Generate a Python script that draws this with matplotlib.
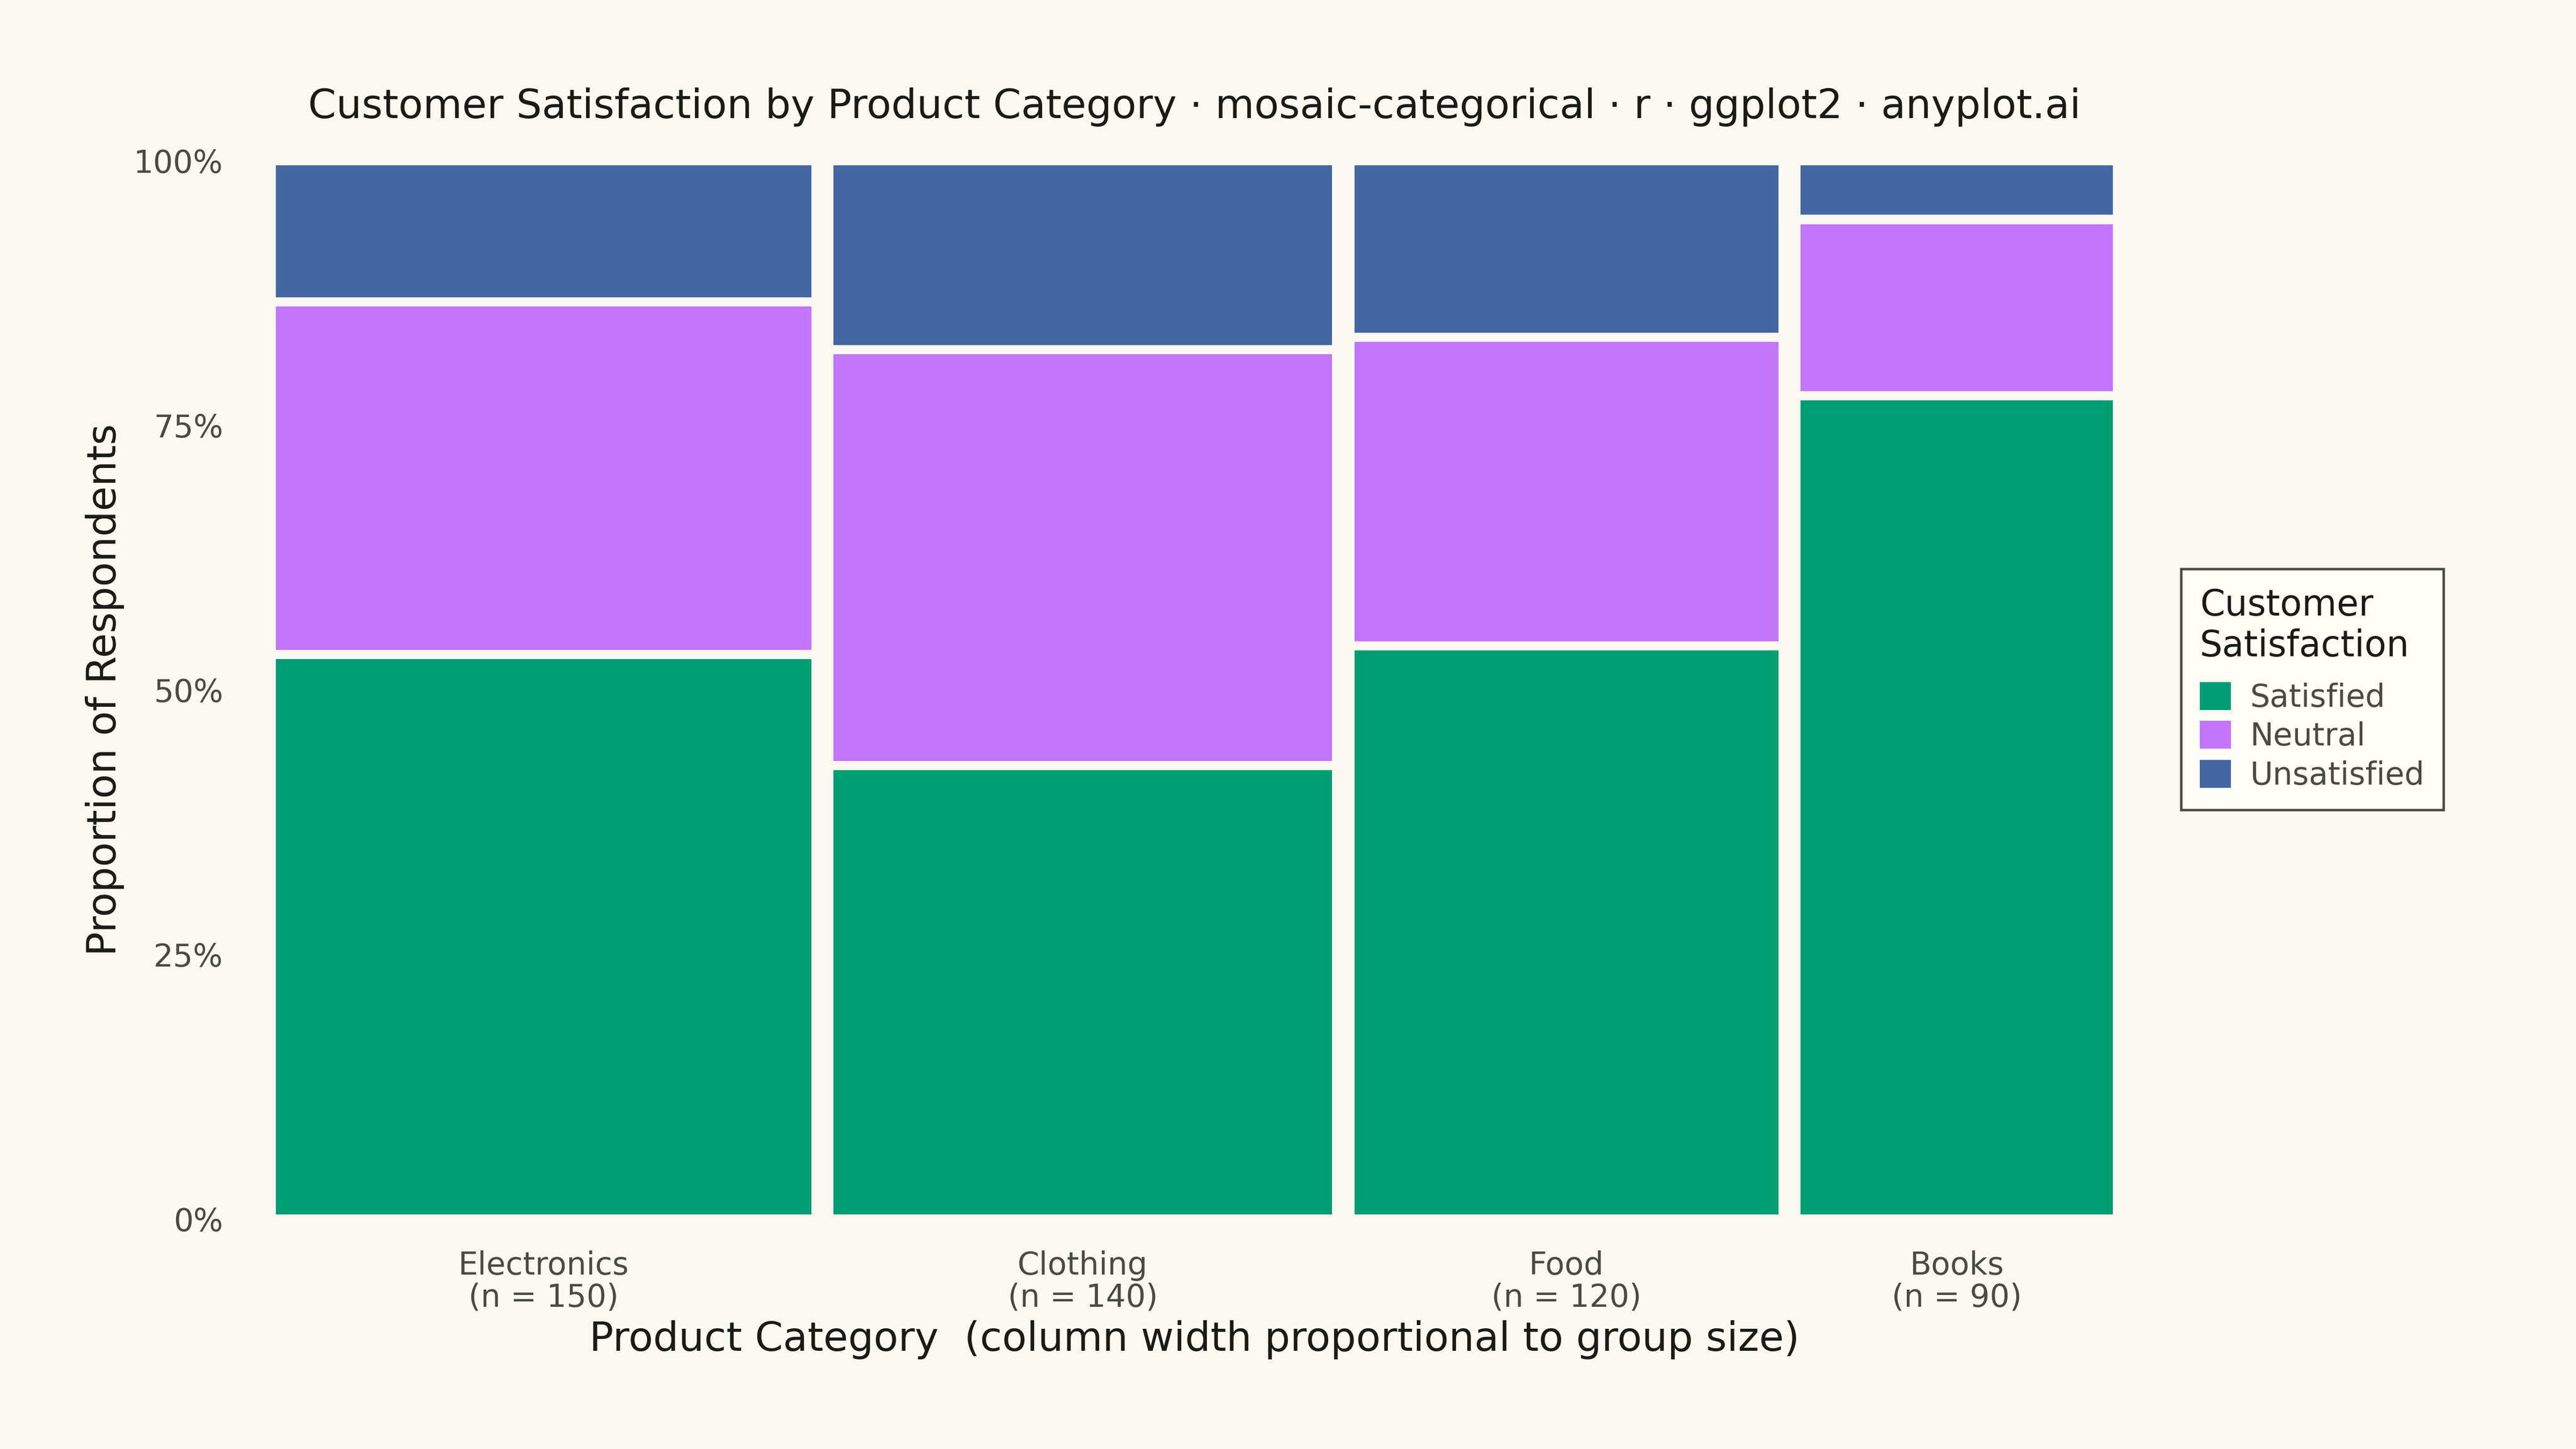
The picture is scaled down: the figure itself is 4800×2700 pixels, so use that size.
import matplotlib

matplotlib.use("Agg")
import matplotlib.pyplot as plt
from matplotlib.patches import Patch, Rectangle

# data: respondents per category and satisfaction level
categories = ["Electronics", "Clothing", "Food", "Books"]
levels = ["Satisfied", "Neutral", "Unsatisfied"]
satisfied = [80, 60, 65, 70]
neutral = [50, 55, 35, 15]
unsatisfied = [20, 25, 20, 5]

colors = ["#009E73", "#C475FD", "#4467A3"]
bg = "#FAF8F1"
ink = "#1A1A17"
ink_soft = "#4A4A44"

plt.rcParams["font.family"] = ["DejaVu Sans"]

fig = plt.figure(figsize=(16, 9), dpi=300, facecolor=bg)
ax = fig.add_axes([0.1027, 0.1587, 0.8246 - 0.1027, 0.8891 - 0.1587])
ax.set_facecolor(bg)

counts = list(zip(satisfied, neutral, unsatisfied))
totals = [sum(c) for c in counts]
grand = sum(totals)

# gap between tiles (data units)
xgap = 6.0
ygap = 0.0087

x0 = 0
centers = []
for n, row in zip(totals, counts):
    y0 = 0.0
    for k, c in enumerate(row):
        h = c / n
        ax.add_patch(Rectangle((x0 + xgap / 2, y0 + ygap / 2), n - xgap, h - ygap,
                               facecolor=colors[k], edgecolor="none"))
        y0 += h
    centers.append(x0 + n / 2)
    x0 += n

ax.set_xlim(0, grand)
ax.set_ylim(0, 1)
for s in ax.spines.values():
    s.set_visible(False)

ax.set_yticks([0, 0.25, 0.5, 0.75, 1.0])
ax.set_yticklabels(["0%", "25%", "50%", "75%", "100%"])
ax.set_xticks(centers)
ax.set_xticklabels([f"{c}\n(n = {n})" for c, n in zip(categories, totals)], linespacing=1.05)
ax.tick_params(axis="both", length=0, labelsize=14, labelcolor=ink_soft)
ax.tick_params(axis="y", pad=18.5)
ax.tick_params(axis="x", pad=14)

ax.set_xlabel("Product Category  (column width proportional to group size)", fontsize=18, color=ink)
ax.set_ylabel("Proportion of Respondents", fontsize=18, color=ink)
ax.xaxis.set_label_coords(0.5, -0.1143)
ax.xaxis.label.set_va("center")
ax.yaxis.set_label_coords(-0.0857, 0.5)
ax.yaxis.label.set_va("center")

ax.set_title("Customer Satisfaction by Product Category · mosaic-categorical · r · ggplot2 · anyplot.ai",
             fontsize=18, color=ink, pad=19)

handles = [Patch(facecolor=c, edgecolor="none", label=l) for c, l in zip(colors, levels)]
leg = fig.legend(handles=handles, title="Customer\nSatisfaction", loc="center left",
                 bbox_to_anchor=(0.8406, 0.5243), fontsize=14, title_fontsize=16,
                 frameon=True, fancybox=False, facecolor="#FFFDF6", edgecolor=ink_soft,
                 framealpha=1, handlelength=1.0, handleheight=1.0, handletextpad=0.6,
                 labelspacing=0.25, borderpad=0.6, alignment="left")
leg.get_frame().set_linewidth(1.1)
leg._legend_box.sep = 8  # a bit more room under the title
leg.get_title().set_color(ink)
for t in leg.get_texts():
    t.set_color(ink_soft)

fig.savefig("out.png", dpi=300, facecolor=bg)
